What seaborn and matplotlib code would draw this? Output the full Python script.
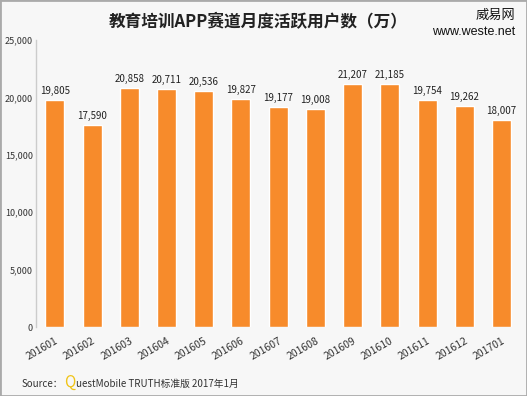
import seaborn as sns
import pandas as pd
import matplotlib.pyplot as plt
from matplotlib.ticker import FuncFormatter, MultipleLocator
from matplotlib.patches import Rectangle

months = ["201601", "201602", "201603", "201604", "201605", "201606", "201607",
          "201608", "201609", "201610", "201611", "201612", "201701"]
users = [19805, 17590, 20858, 20711, 20536, 19827, 19177,
         19008, 21207, 21185, 19754, 19262, 18007]

title = "教育培训APP赛道月度活跃用户数（万）"
bar_color = "#f78b2b"
bg = "#f7f7f7"

sns.set_theme(style="white", rc={"axes.facecolor": bg, "figure.facecolor": bg})
plt.rcParams['font.family'] = ['Noto Sans CJK SC', 'DejaVu Sans']

df = pd.DataFrame({"month": months, "users": users})

fig = plt.figure(figsize=(5.27, 3.96), dpi=100)
ax = fig.add_axes([0.068, 0.174, 0.919, 0.725])
sns.barplot(df, x="month", y="users", color=bar_color, width=0.51, ax=ax,
            saturation=1)

ax.set_ylim(0, 25000)
ax.set_xlim(-0.51, 12.5)
ax.yaxis.set_major_locator(MultipleLocator(5000))
ax.yaxis.set_major_formatter(FuncFormatter(lambda v, p: f"{int(v):,}"))
ax.tick_params(axis="y", labelsize=6.5, colors="#333333", pad=2, length=0)
ax.tick_params(axis="x", labelsize=7.5, colors="#333333", length=0, pad=6)
for lab in ax.get_xticklabels():
    lab.set_rotation(30)
    lab.set_ha("right")
    lab.set_rotation_mode("anchor")
ax.set_xlabel("")
ax.set_ylabel("")
for s in ["top", "right", "bottom"]:
    ax.spines[s].set_visible(False)
ax.spines["left"].set_color("#cccccc")
ax.spines["left"].set_linewidth(1)

for i, v in enumerate(users):
    ax.text(i, v + 350, f"{v:,}", ha="center", va="bottom", fontsize=7, color="#222222")

fig.text(0.49, 0.945, title, ha="center", va="center", fontsize=12, fontweight="bold", color="#222222")
fig.text(0.978, 0.962, "威易网", ha="right", va="center", fontsize=9.5, color="#111111")
fig.text(0.978, 0.918, "www.weste.net", ha="right", va="center", fontsize=9,
         color="#111111", family=["Liberation Sans"])
fig.text(0.04, 0.03, "Source：", ha="left", va="center", fontsize=7, color="#333333")
fig.text(0.122, 0.035, "Q", ha="left", va="center", fontsize=11, color="#f0c419")
fig.text(0.145, 0.03, "uestMobile TRUTH标准版 2017年1月", ha="left", va="center", fontsize=7, color="#333333")

fig.add_artist(Rectangle((0, 0), 1, 1, transform=fig.transFigure, fill=False,
                         edgecolor="#aaaaaa", linewidth=2))

fig.savefig("out.png", dpi=100)
